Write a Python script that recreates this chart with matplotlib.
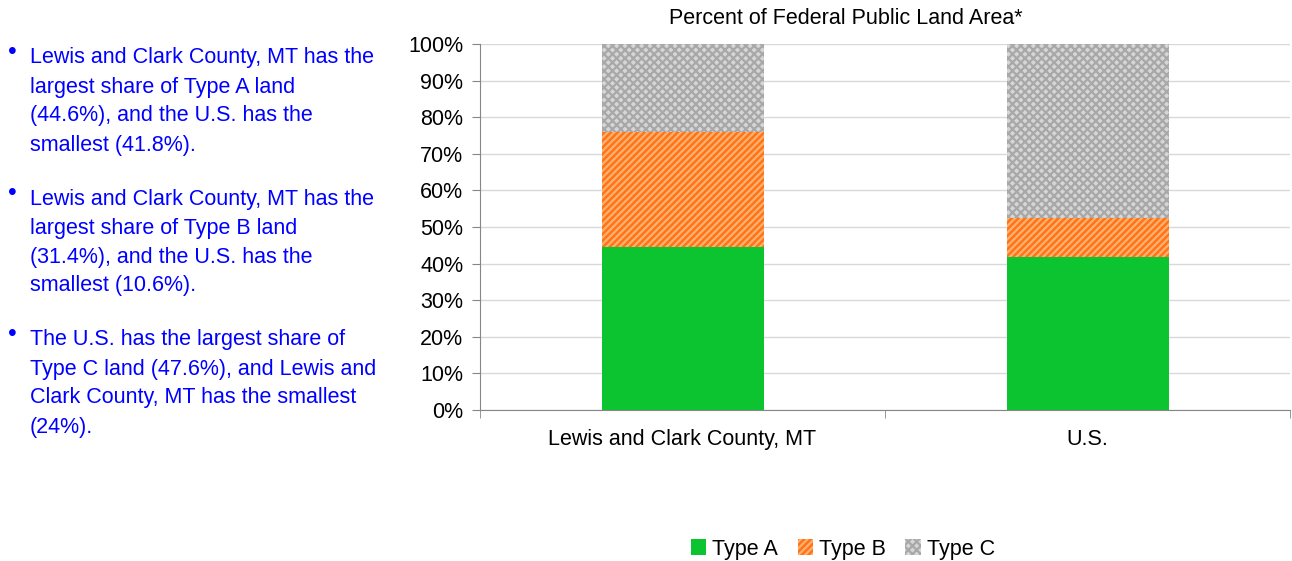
import matplotlib.pyplot as plt
import numpy as np

plt.rcParams['font.family'] = ['Liberation Sans', 'DejaVu Sans']
plt.rcParams['hatch.linewidth'] = 1.6

# data
categories = ['Lewis and Clark County, MT', 'U.S.']
type_a = [44.6, 41.8]
type_b = [31.4, 10.6]
type_c = [24.0, 47.6]
series_names = ['Type A', 'Type B', 'Type C']
yticks = [0, 10, 20, 30, 40, 50, 60, 70, 80, 90, 100]

bullets = [
    ['Lewis and Clark County, MT has the', 'largest share of Type A land',
     '(44.6%), and the U.S. has the', 'smallest (41.8%).'],
    ['Lewis and Clark County, MT has the', 'largest share of Type B land',
     '(31.4%), and the U.S. has the', 'smallest (10.6%).'],
    ['The U.S. has the largest share of', 'Type C land (47.6%), and Lewis and',
     'Clark County, MT has the smallest', '(24%).'],
]

W, H = 1292, 561
fs = 15.5
fig = plt.figure(figsize=(W / 100, H / 100), dpi=100)
ax = fig.add_axes([480 / W, 1 - 410 / H, 810 / W, 366 / H])

x = np.arange(len(categories))
bw = 0.4
ax.bar(x, type_a, bw, color='#0CC42F', linewidth=0, label=series_names[0], zorder=3)
ax.bar(x, type_b, bw, bottom=type_a, facecolor='#FF7414', edgecolor='#FFB073',
       hatch='/////', linewidth=0, label=series_names[1], zorder=3)
bottom_c = np.array(type_a) + np.array(type_b)
ax.bar(x, type_c, bw, bottom=bottom_c, facecolor='#D6D6D6', edgecolor='#A8A8A8',
       hatch='xxxx', linewidth=0, label=series_names[2], zorder=3)

ax.set_xlim(-0.5, 1.5)
ax.set_ylim(0, 100)
ax.set_yticks(yticks)
ax.set_yticklabels([f'{v}%' for v in yticks], fontsize=fs)
ax.yaxis.grid(True, color='#D9D9D9', linewidth=1, zorder=0)
ax.set_xticks(x)
ax.set_xticklabels(categories, fontsize=fs)
ax.tick_params(axis='x', length=0, pad=14)
ax.set_xticks([-0.5, 0.5, 1.5], minor=True)
ax.tick_params(axis='x', which='minor', length=6, color='#868686')
ax.tick_params(axis='y', length=6, color='#868686', pad=6)
for s in ['top', 'right']:
    ax.spines[s].set_visible(False)
for s in ['left', 'bottom']:
    ax.spines[s].set_color('#868686')

fig.text(846 / W, 1 - 18 / H, 'Percent of Federal Public Land Area*', fontsize=fs,
         ha='center', va='center')

fig.legend(loc='center', bbox_to_anchor=(843 / W, 1 - 549 / H), ncol=3, frameon=False,
           fontsize=fs, handlelength=0.7, handleheight=0.7, columnspacing=0.9,
           handletextpad=0.3)

# bullet text
starts = [58, 199, 340]
for lines, y0 in zip(bullets, starts):
    fig.text(8 / W, 1 - (y0 - 6) / H, '•', fontsize=18, color='#0000FF',
             ha='left', va='center')
    for i, line in enumerate(lines):
        fig.text(30 / W, 1 - (y0 + 29 * i) / H, line, fontsize=fs, color='#0000FF',
                 ha='left', va='center')

fig.savefig('out.png', dpi=100)
